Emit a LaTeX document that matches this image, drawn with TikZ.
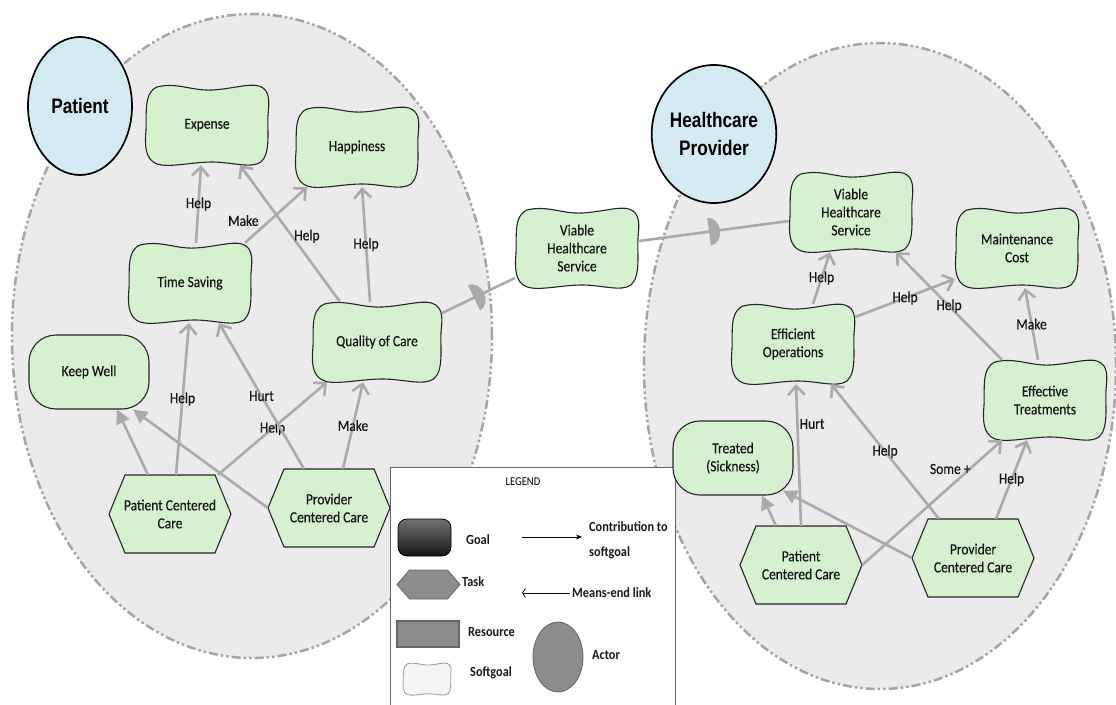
\documentclass[tikz,border=0pt]{standalone}
\usepackage{fontspec}
\setmainfont{Carlito}
\newfontfamily\nodefam[FakeBold=0.3,FakeStretch=0.87]{Carlito}
\newfontfamily\legendfam[FakeStretch=0.88]{Carlito}
\newfontfamily\actorfont[FakeStretch=0.82]{Liberation Sans}
\usetikzlibrary{arrows.meta,decorations.markings,shapes.geometric}
\definecolor{bnd}{HTML}{EBEBEB}
\definecolor{bndline}{HTML}{A5A5A5}
\definecolor{sgfill}{HTML}{D5F1D0}
\definecolor{actfill}{HTML}{D5EBF3}
\definecolor{lnk}{HTML}{AAAAAA}
\tikzset{
  boundary/.style={fill=bnd, draw=bndline, line width=2.5pt, dash pattern=on 9pt off 3pt on 2.5pt off 3pt on 2.5pt off 3pt},
  nodefont/.style={font=\nodefam\fontsize{15.5}{18}\selectfont, text=black!92},
  sgline/.style={fill=sgfill, draw=black!85, line width=1.1pt},
  sgbox/.style={nodefont, minimum height=80pt, inner sep=0pt, align=center},
  goalbox/.style={nodefont, draw=black!85, fill=sgfill, line width=1.1pt, rounded corners=27pt, minimum width=120pt, minimum height=74pt, inner sep=0pt, align=center},
  taskbox/.style={nodefont, minimum width=122pt, minimum height=78pt, inner sep=0pt, align=center},
  actorbox/.style={ellipse, draw=black, line width=1.7pt, fill=actfill, minimum width=104pt, minimum height=138pt, inner sep=0pt, align=center, font=\actorfont\bfseries\fontsize{21}{28}\selectfont},
  link/.style={draw=lnk, line width=2.6pt, -{Straight Barb[length=9pt,width=17pt]}},
  melink/.style={draw=lnk, line width=2.6pt, -{Triangle[length=14pt,width=14pt]}},
  deplink/.style={draw=lnk, line width=2.6pt, postaction={decorate}, decoration={markings, mark=at position #1 with {\fill[lnk] (-5pt,-14pt) arc[start angle=-90, end angle=90, x radius=11pt, y radius=14pt] -- cycle;}}},
  deplink/.default=0.5,
  lbl/.style={nodefont, inner sep=1pt},
  lgtxt/.style={font=\legendfam\bfseries\fontsize{14}{25}\selectfont, text=black!90, inner sep=0pt},
  lgshape/.style={fill=black!45, draw=black!60, line width=0.8pt},
}
\newcommand\sgnd[5]{%
  \begin{scope}[shift={(#2,#3)}, xscale=#4]
    \filldraw[sgline] (-50,-38) .. controls (-30,-43) and (-15,-34) .. (5,-35) .. controls (25,-36) and (42,-42) .. (52,-39) .. controls (64,-35) and (62,-22) .. (61,-10) .. controls (60,5) and (64,28) .. (54,37) .. controls (44,44) and (25,37) .. (5,37) .. controls (-15,37) and (-38,43) .. (-50,39) .. controls (-63,34) and (-62,18) .. (-61,5) .. controls (-60,-10) and (-64,-32) .. (-50,-38) -- cycle;
  \end{scope}
  \node[sgbox, minimum width={124pt*#4}] (#1) at (#2,#3) {#5};
}
\newcommand\tasknd[4]{%
  \filldraw[sgline, shift={(#2,#3)}] (-45,-39) -- (45,-39) -- (61,0) -- (45,39) -- (-45,39) -- (-61,0) -- cycle;
  \node[taskbox] (#1) at (#2,#3) {#4};
}
\begin{document}
\begin{tikzpicture}[x=1pt,y=-1pt]
\useasboundingbox (0,0) rectangle (1116,704);
\fill[white] (0,0) rectangle (1116,704);
% actor boundaries
\draw[boundary] (252,336) ellipse [x radius=240pt, y radius=322pt];
\draw[boundary] (880,366) ellipse [x radius=236pt, y radius=323pt];
% legend
\node[draw=black!60, line width=0.9pt, fill=white, minimum width=285pt, minimum height=270pt, inner sep=0pt] (legend) at (532.5,602) {};
\node[font=\legendfam\fontsize{12}{13}\selectfont, inner sep=0pt] (lgtitle) at (523,482) {LEGEND};
\node[rounded corners=9pt, draw=black, line width=0.8pt, top color=black!55, bottom color=black!92, minimum width=53pt, minimum height=37pt, inner sep=0pt] (lggoal) at (424.5,537.5) {};
\node[lgtxt, anchor=west] (lggoalt) at (466,540) {Goal};
\coordinate (ca) at (522,537);
\coordinate (cb) at (582,537);
\draw[black, line width=1pt, -{Stealth[length=6pt,width=5pt]}] (ca) -- (cb);
\node[lgtxt, anchor=west, align=left] (lgcontrib) at (589,540) {Contribution to\\softgoal};
\filldraw[lgshape, shift={(428.5,584.5)}] (-19,-14.5) -- (19,-14.5) -- (31.5,0) -- (19,14.5) -- (-19,14.5) -- (-31.5,0) -- cycle;
\node[minimum width=63pt, minimum height=29pt, inner sep=0pt] (lgtask) at (428.5,584.5) {};
\node[lgtxt, anchor=west] (lgtaskt) at (462,582) {Task};
\coordinate (cc) at (570,593);
\coordinate (cd) at (522,593);
\draw[black, line width=0.8pt, -{Straight Barb[length=3pt,width=9pt]}] (cc) -- (cd);
\node[lgtxt, anchor=west] (lgme) at (572,593) {Means-end link};
\node[lgshape, line width=1.4pt, minimum width=62pt, minimum height=26pt, inner sep=0pt] (lgres) at (428,634) {};
\node[lgtxt, anchor=west] (lgrest) at (468,632) {Resource};
\node[lgshape, ellipse, minimum width=50pt, minimum height=70pt, inner sep=0pt] (lgactor) at (558,657) {};
\node[lgtxt, anchor=west] (lgactort) at (592,655) {Actor};
\begin{scope}[shift={(427,679)}, xscale=0.39, yscale=0.4]
  \filldraw[fill=black!4, draw=black!40, line width=0.8pt] (-50,-38) .. controls (-30,-43) and (-15,-34) .. (5,-35) .. controls (25,-36) and (42,-42) .. (52,-39) .. controls (64,-35) and (62,-22) .. (61,-10) .. controls (60,5) and (64,28) .. (54,37) .. controls (44,44) and (25,37) .. (5,37) .. controls (-15,37) and (-38,43) .. (-50,39) .. controls (-63,34) and (-62,18) .. (-61,5) .. controls (-60,-10) and (-64,-32) .. (-50,-38) -- cycle;
\end{scope}
\node[minimum width=48pt, minimum height=32pt, inner sep=0pt] (lgsoft) at (427,679) {};
\node[lgtxt, anchor=west] (lgsoftt) at (470,673) {Softgoal};
% left actor nodes
\sgnd{exp}{207}{125}{1}{Expense}
\sgnd{hap}{357}{147}{1}{Happiness}
\sgnd{ts}{190}{283}{1}{Time Saving}
\sgnd{qoc}{377}{342}{1.05}{Quality of Care}
\node[goalbox] (kw) at (89,372) {Keep Well};
\tasknd{pccL}{170}{514}{Patient Centered\\Care}
\tasknd{prcL}{329}{508}{Provider\\Centered Care}
% middle
\sgnd{vhsM}{577}{248}{1}{Viable\\Healthcare\\Service}
% right actor nodes
\sgnd{vhsR}{851}{212}{1}{Viable\\Healthcare\\Service}
\sgnd{mc}{1017}{248}{1}{Maintenance\\Cost}
\sgnd{eo}{793}{344}{1}{Efficient\\Operations}
\sgnd{et}{1045}{400}{1}{Effective\\Treatments}
\node[goalbox] (tr) at (733,458) {Treated\\(Sickness)};
\tasknd{pccR}{801}{565}{Patient\\Centered Care}
\tasknd{prcR}{973}{558}{Provider\\Centered Care}
% actors
\node[actorbox] (patient) at (80,106) {Patient};
\node[actorbox] (hp) at (714,134) {Healthcare\\Provider};
% dependencies
\draw[deplink=0.5] ([yshift=29pt]qoc.east) -- ([yshift=-30pt]vhsM.west);
\draw[deplink=0.5] ([yshift=7pt]vhsM.east) -- ([yshift=-9pt]vhsR.west);
% left links
\draw[link] ([xshift=6pt]ts.north) -- node[lbl]{Help} ([xshift=-6pt]exp.south);
\draw[link] ([xshift=55pt]ts.north) -- node[lbl, pos=0.4, anchor=east, xshift=-9pt]{Make} ([xshift=-50pt]hap.south);
\draw[link] ([xshift=-37pt]qoc.north) -- node[lbl, pos=0.48, anchor=west]{Help} ([xshift=33pt]exp.south);
\draw[link] ([xshift=-7pt]qoc.north) -- node[lbl]{Help} ([xshift=5pt]hap.south);
\draw[melink] ([xshift=-22pt]pccL.north) -- ([xshift=28pt]kw.south);
\draw[link] ([xshift=6pt]pccL.north) -- node[lbl]{Help} ([xshift=-1pt]ts.south);
\draw[link] ([xshift=48pt]pccL.north) -- node[lbl]{Help} ([xshift=-50pt]qoc.south);
\draw[melink] (prcL.west) -- ([xshift=44pt]kw.south);
\draw[link] ([xshift=-25pt]prcL.north) -- node[lbl]{Hurt} ([xshift=29pt]ts.south);
\draw[link] ([xshift=14pt]prcL.north) -- node[lbl]{Make} ([xshift=-14pt]qoc.south);
% right links
\draw[link] ([xshift=20pt]eo.north) -- node[lbl]{Help} ([xshift=-21pt]vhsR.south);
\draw[link] ([yshift=27pt]eo.east) -- node[lbl]{Help} ([yshift=-31pt]mc.west);
\draw[link] ([xshift=-43pt]et.north) -- node[lbl]{Help} ([xshift=45pt]vhsR.south);
\draw[link] ([xshift=-7pt]et.north) -- node[lbl]{Make} ([xshift=8pt]mc.south);
\draw[melink] ([xshift=-25pt]pccR.north) -- ([xshift=29pt]tr.south);
\draw[link] (pccR.north) -- node[lbl, pos=0.72, anchor=west]{Hurt} ([xshift=3pt]eo.south);
\draw[link] (pccR.east) -- node[lbl, pos=0.63, anchor=south, yshift=10pt]{Some +} ([xshift=-43pt]et.south);
\draw[melink] (prcR.west) -- ([xshift=50pt,yshift=5pt]tr.south);
\draw[link] ([xshift=-34pt]prcR.north) -- node[lbl]{Help} ([xshift=38pt]eo.south);
\draw[link] ([xshift=23pt]prcR.north) -- node[lbl]{Help} ([xshift=-18pt]et.south);
\end{tikzpicture}
\end{document}
